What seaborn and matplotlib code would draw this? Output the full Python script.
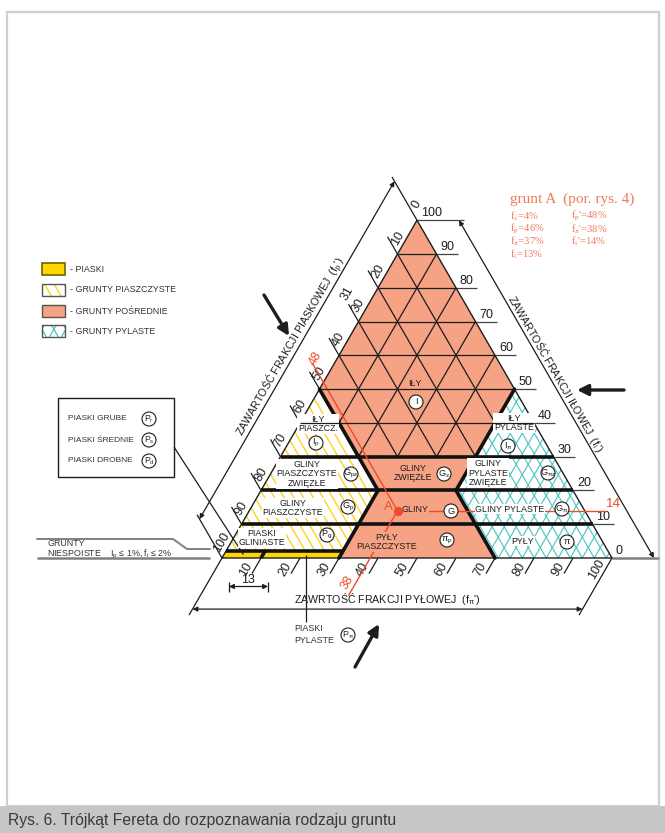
import numpy as np
import pandas as pd
import matplotlib
matplotlib.use("Agg")
import matplotlib.pyplot as plt
from matplotlib import font_manager
from matplotlib.patches import Polygon, Circle, Rectangle
import seaborn as sns

# ------------------------------------------------------------------ data
SCALE_TICKS = [0, 10, 20, 30, 40, 50, 60, 70, 80, 90, 100]
BOLD_CLAY = [10, 20, 30]                 # bold clay isolines (f_i')
THIN_CLAY = [40, 50, 60, 70, 80, 90]     # thin clay isolines
GRID_SAND = [10, 20, 30, 40]             # sand isolines inside the clay zone
GRID_SILT = [10, 20, 30, 40]             # silt isolines inside the clay zone
NONCOHESIVE_CLAY = 2                     # f_i <= 2 %  -> sands
SAND_SPLIT_SILT = 10                     # split of the sand strip
EXTRA_SAND_LABEL = "31"

# soil classes as (silt %, clay %) vertices
ZONE_INTERMEDIATE = [(0, 100), (0, 50), (30, 20), (30, 0), (70, 0), (50, 20), (50, 50)]
ZONE_SANDY = [(0, 50), (0, 2), (30, 2), (30, 20)]
ZONE_SANDS = [(0, 2), (0, 0), (30, 0), (30, 2)]
ZONE_SILTY = [(50, 50), (50, 20), (70, 0), (100, 0)]
ZONE_CLAY_GRID = [(0, 100), (0, 50), (20, 30), (50, 30), (50, 50)]
BOUNDARIES = [[(0, 50), (30, 20), (30, 0)],      # sand 50 % / silt 30 %
              [(50, 50), (50, 20), (70, 0)]]     # silt 50 % / sand 30 %

# soil A
A_SAND, A_SILT, A_CLAY = 48, 38, 14
A_RAW = ["f$_{\\dot{z}}$=4%", "f$_p$=46%", "f$_π$=37%", "f$_i$=13%"]
A_REDUCED = ["f$_p$'=48%", "f$_π$'=38%", "f$_i$'=14%"]

LEGEND_ITEMS = ["- PIASKI", "- GRUNTY PIASZCZYSTE", "- GRUNTY POŚREDNIE", "- GRUNTY PYLASTE"]
SAND_TYPES = [("PIASKI GRUBE", "P$_r$"), ("PIASKI ŚREDNIE", "P$_s$"), ("PIASKI DROBNE", "P$_d$")]

# ------------------------------------------------------------------ style
sns.set_theme(style="white")
names = {f.name for f in font_manager.fontManager.ttflist}
NARROW = "Liberation Sans Narrow" if "Liberation Sans Narrow" in names else "Liberation Sans"
K = 1.0 if NARROW.endswith("Narrow") else 0.86
plt.rcParams["font.family"] = [NARROW, "DejaVu Sans"]
plt.rcParams["mathtext.fontset"] = "custom"
plt.rcParams["mathtext.rm"] = NARROW
plt.rcParams["mathtext.it"] = NARROW + ":italic"
plt.rcParams["mathtext.default"] = "rm"

ORANGE = "#F5A285"
YELLOW = "#FFD600"
HATCH_Y = "#FFD21A"
CYAN = "#47C4C2"
RED = "#EF4A2A"
SALMON = "#F07A5C"
INK = "#1d1d1d"
GREY = "#808080"
NUM = ["Liberation Sans", "DejaVu Sans"]

W, H = 665, 833
U = 3.9                  # pixels per percent
X0, Y0 = 222.0, 558.0    # bottom-left corner of the triangle on the page
SQ = np.sqrt(3) / 2
UP_LEFT = np.array([-0.5, SQ])
DOWN_LEFT = np.array([-0.5, -SQ])
RIGHT = np.array([1.0, 0.0])


def P(x, y):
    return np.array([(x - X0) / U, (Y0 - y) / U])


def px(n):
    return n / U


def tern(silt, clay):
    return np.array([silt + clay / 2.0, clay * SQ])


def zone_xy(z):
    return np.array([tern(s, c) for s, c in z])


def seg(ax, a, b, **kw):
    return ax.plot([a[0], b[0]], [a[1], b[1]], solid_capstyle="butt", **kw)[0]


def hatch(ax, verts, angle, step_px, color, lw, z):
    verts = np.asarray(verts, float)
    clip = Polygon(verts, closed=True, fc="none", ec="none")
    ax.add_patch(clip)
    th = np.deg2rad(angle)
    u = np.array([np.cos(th), np.sin(th)])
    n = np.array([-u[1], u[0]])
    proj, along = verts @ n, verts @ u
    step = px(step_px)
    for k in np.arange(np.floor(proj.min() / step) * step, proj.max() + step, step):
        ln = seg(ax, k * n + (along.min() - 1) * u, k * n + (along.max() + 1) * u,
                 color=color, lw=lw, zorder=z)
        ln.set_clip_path(clip)


fig = plt.figure(figsize=(W / 100, H / 100), dpi=100)
ax = fig.add_axes([0, 0, 1, 1])
ax.set_xlim(P(0, 0)[0], P(W, 0)[0])
ax.set_ylim(P(0, H)[1], P(0, 0)[1])
ax.axis("off")

# page frame and caption band
ax.add_patch(Rectangle(P(7, 806), px(652), px(794), fill=False, ec="#cfcfcf", lw=1.6, zorder=0))
ax.add_patch(Rectangle(P(0, 833), px(665), px(27), fc="#c6c6c6", ec="none", zorder=0))
ax.text(*P(8, 820), "Rys. 6. Trójkąt Fereta do rozpoznawania rodzaju gruntu",
        fontsize=13.2 * K, color="#3a3a3a", va="center", ha="left")

# ------------------------------------------------------------------ zones
ax.add_patch(Polygon(zone_xy(ZONE_INTERMEDIATE), fc=ORANGE, ec="none", zorder=1))
ax.add_patch(Polygon(zone_xy(ZONE_SANDS), fc=YELLOW, ec="none", zorder=1))
hatch(ax, zone_xy(ZONE_SANDY), -60, 8.4, HATCH_Y, 1.0, 2)
hatch(ax, zone_xy(ZONE_SILTY), 60, 10.4, CYAN, 0.8, 2)
hatch(ax, zone_xy(ZONE_SILTY), -60, 10.4, CYAN, 0.8, 2)

# triangular grid in the clay zone
gclip = Polygon(zone_xy(ZONE_CLAY_GRID), closed=True, fc="none", ec="none")
ax.add_patch(gclip)
for p in GRID_SAND:
    seg(ax, tern(0, 100 - p), tern(100 - p, 0), color=INK, lw=0.9, zorder=3).set_clip_path(gclip)
for s in GRID_SILT:
    seg(ax, tern(s, 100 - s), tern(s, 0), color=INK, lw=0.9, zorder=3).set_clip_path(gclip)

for c in THIN_CLAY:
    seg(ax, tern(0, c), tern(100 - c, c), color=INK, lw=0.9, zorder=8.5)
for c in BOLD_CLAY:
    seg(ax, tern(0, c), tern(100 - c, c), color="#111111", lw=2.6, zorder=6)
seg(ax, tern(0, NONCOHESIVE_CLAY), tern(30, NONCOHESIVE_CLAY), color="#111111", lw=2.6, zorder=6)
seg(ax, tern(SAND_SPLIT_SILT, 0), tern(SAND_SPLIT_SILT, NONCOHESIVE_CLAY), color="#111111", lw=2.6, zorder=6)
for b in BOUNDARIES:
    xy = zone_xy(b)
    ax.plot(xy[:, 0], xy[:, 1], color="#111111", lw=2.6, zorder=6, solid_joinstyle="miter")

tri = zone_xy([(0, 0), (100, 0), (0, 100), (0, 0)])
ax.plot(tri[:, 0], tri[:, 1], color=INK, lw=1.0, zorder=5)

# ------------------------------------------------------------------ scales
for v in SCALE_TICKS:
    end = v in (0, 100)
    # sand (left side)
    e = tern(0, 100 - v)
    seg(ax, e, e + px(50 if end else 20) * UP_LEFT, color=INK, lw=0.9, zorder=4)
    ax.text(*(e + np.array([0, px(16)])), str(v), rotation=60, rotation_mode="anchor",
            ha="center", va="center", fontsize=9, family=NUM, color=INK)
    # silt (base)
    e = tern(v, 0)
    seg(ax, e, e + px(66 if end else 18) * DOWN_LEFT, color=INK, lw=0.9, zorder=4)
    if v > 0:
        ax.text(*(e + np.array([-px(15), -px(11)])), str(v), rotation=60, rotation_mode="anchor",
                ha="center", va="center", fontsize=9, family=NUM, color=INK)
    # clay (right side)
    e = tern(100 - v, v)
    seg(ax, e, e + px(47 if end else 21) * RIGHT, color=GREY if v == 0 else "#444444",
        lw=1.8 if v == 0 else 0.9, zorder=4)
    ax.text(*(e + np.array([px(4), px(1)])), str(v), ha="left", va="bottom",
            fontsize=9, family=NUM, color=INK)

e30 = tern(0, 70) + np.array([0, px(16)])
ax.text(*(e30 + px(14) * UP_LEFT + np.array([-px(4), 0])), EXTRA_SAND_LABEL, rotation=60,
        rotation_mode="anchor", ha="center", va="center", fontsize=9, family=NUM, color=INK)

dim = dict(arrowstyle="<|-|>", lw=0.9, color=INK, mutation_scale=7, shrinkA=0, shrinkB=0)
la, lb = tern(0, 100) + px(45) * UP_LEFT, tern(0, 0) + px(45) * UP_LEFT
ra, rb = tern(0, 100) + px(42) * RIGHT, tern(100, 0) + px(42) * RIGHT
ba, bb = tern(0, 0) + px(59) * DOWN_LEFT, tern(100, 0) + px(59) * DOWN_LEFT
for a, b in [(la, lb), (ra, rb), (ba, bb)]:
    ax.annotate("", xy=a, xytext=b, arrowprops=dim)

TFS = 8.9 * K
ax.text(*((la + lb) / 2 + px(7) * np.array([-SQ, 0.5])), "ZAWARTOŚĆ FRAKCJI PIASKOWEJ  (f$_p$')",
        rotation=60, rotation_mode="anchor", ha="center", va="center", fontsize=TFS, color=INK)
ax.text(*((ra + rb) / 2 + px(7) * np.array([SQ, 0.5]) + px(14) * np.array([-0.5, SQ])),
        "ZAWARTOŚĆ FRAKCJI IŁOWEJ  (f$_i$')",
        rotation=-60, rotation_mode="anchor", ha="center", va="center", fontsize=TFS, color=INK)
ax.text(*((ba + bb) / 2 + np.array([0, px(2)])), "ZAWRTOŚĆ FRAKCJI PYŁOWEJ  (f$_π$')",
        ha="center", va="bottom", fontsize=TFS, color=INK)

# big reading arrows
big = dict(arrowstyle="-|>", lw=2.4, color=INK, mutation_scale=16, shrinkA=0, shrinkB=0)
ax.annotate("", xy=P(289, 336), xytext=P(264, 295), arrowprops=big)
ax.annotate("", xy=P(577, 390), xytext=P(624, 390), arrowprops=big)
ax.annotate("", xy=P(379, 624), xytext=P(355, 667), arrowprops=big)

# ------------------------------------------------------------------ labels
FS = 7.4 * K
ZONE_LABELS = [
    ("IŁY", (415, 383), "I", (416, 402), "o"),
    ("IŁY\nPIASZCZ.", (318, 424), "I$_p$", (316, 443), "w"),
    ("GLINY\nPIASZCZYSTE\nZWIĘZŁE", (307, 474), "G$_{pz}$", (351, 474), "w"),
    ("GLINY\nPIASZCZYSTE", (293, 508), "G$_p$", (348, 507), "w"),
    ("PIASKI\nGLINIASTE", (262, 538), "P$_g$", (327, 535), "w"),
    ("GLINY\nZWIĘZŁE", (413, 473), "G$_z$", (444, 474), "o"),
    ("GLINY", (415, 510), "G", (451, 511), "o"),
    ("PYŁY\nPIASZCZYSTE", (387, 542), "π$_p$", (447, 540), "o"),
    ("IŁY\nPYLASTE", (514, 423), "I$_π$", (508, 446), "w"),
    ("GLINY\nPYLASTE\nZWIĘZŁE", (488, 473), "G$_{πz}$", (548, 473), "w"),
    ("GLINY PYLASTE", (510, 509), "G$_π$", (562, 509), "w"),
    ("PYŁY", (523, 541), "π", (567, 542), "w"),
]
for text, tpos, sym, spos, bg in ZONE_LABELS:
    ax.text(*P(*tpos), text, ha="center", va="center", fontsize=FS, linespacing=1.05,
            color=INK, zorder=8,
            bbox=dict(boxstyle="square,pad=0.1", fc="white" if bg == "w" else ORANGE, ec="none"))
    ax.add_patch(Circle(P(*spos), px(7), fc="white", ec=INK, lw=0.8, zorder=8))
    ax.text(*P(*spos), sym, ha="center", va="center", fontsize=7.6 * K, color=INK, zorder=9)

# ------------------------------------------------------------------ soil A
A = tern(A_SILT, A_CLAY)
e48 = tern(0, 100 - A_SAND)
b38 = tern(A_SILT, 0)
e14 = tern(100 - A_CLAY, A_CLAY)
guides = [(e48 + px(22) * UP_LEFT, A), (A, b38 + px(43) * DOWN_LEFT), (A, e14 + px(21) * RIGHT)]
for a, b in guides:
    sns.lineplot(x=[a[0], b[0]], y=[a[1], b[1]], sort=False, estimator=None, ax=ax,
                 color=RED, lw=1.0, zorder=7.5)
sns.scatterplot(x=[A[0]], y=[A[1]], ax=ax, s=38, color=RED, edgecolor=RED, zorder=10, legend=False)
ax.text(*P(388, 507.5), "A", color=RED, fontsize=9.5, family=NUM, ha="center", va="center", zorder=10)
ax.text(*(e48 + np.array([-px(8), px(24)])), str(A_SAND), rotation=60, rotation_mode="anchor",
        ha="center", va="center", fontsize=9, family=NUM, color=RED)
ax.text(*(b38 + np.array([-px(23), -px(25)])), str(A_SILT), rotation=60, rotation_mode="anchor",
        ha="center", va="center", fontsize=9, family=NUM, color=RED)
ax.text(*(e14 + px(21) * RIGHT + np.array([0, px(1)])), str(A_CLAY), ha="left", va="bottom",
        fontsize=9.5, family=NUM, color=RED)

SERIF = ["Liberation Serif", "DejaVu Serif"]
ax.text(*P(510, 199), "grunt A  (por. rys. 4)", family=SERIF, fontsize=11, color=SALMON, va="center")
for i, t in enumerate(A_RAW):
    ax.text(*P(510, 216 + 12.8 * i), t, family=SERIF, math_fontfamily="stix", fontsize=7.6,
            color=SALMON, va="center")
for i, t in enumerate(A_REDUCED):
    ax.text(*P(571, 216 + 12.8 * i), t, family=SERIF, math_fontfamily="stix", fontsize=7.6,
            color=SALMON, va="center")

# ------------------------------------------------------------------ legend
sw = [(42, 263), (42, 284), (42, 305), (42, 325)]
for i, ((x, y), name) in enumerate(zip(sw, LEGEND_ITEMS)):
    ll = P(x, y + 12)
    rect = np.array([ll, ll + [px(23), 0], ll + [px(23), px(12)], ll + [0, px(12)]])
    if i == 0:
        ax.add_patch(Polygon(rect, fc=YELLOW, ec="#6f6400", lw=1.2, zorder=3))
    elif i == 1:
        hatch(ax, rect, -60, 8.4, HATCH_Y, 1.0, 2)
        ax.add_patch(Polygon(rect, fc="none", ec="#555555", lw=1.0, zorder=3))
    elif i == 2:
        ax.add_patch(Polygon(rect, fc=ORANGE, ec="#555555", lw=1.0, zorder=3))
    else:
        hatch(ax, rect, 60, 10.4, CYAN, 0.9, 2)
        hatch(ax, rect, -60, 10.4, CYAN, 0.9, 2)
        ax.add_patch(Polygon(rect, fc="none", ec="#555555", lw=1.0, zorder=3))
    ax.text(*P(x + 28, y + 6), name, fontsize=7.4 * K, color="#333333", va="center")

# sands box
ax.add_patch(Rectangle(P(58, 477), px(116), px(79), fill=False, ec=INK, lw=1.0))
for i, (name, sym) in enumerate(SAND_TYPES):
    yy = 419 + 21 * i
    ax.text(*P(68, yy), name, fontsize=7.0 * K, color="#333333", va="center")
    ax.add_patch(Circle(P(149, yy), px(7), fc="white", ec=INK, lw=0.8, zorder=8))
    ax.text(*P(149, yy), sym, fontsize=7.2 * K, ha="center", va="center", zorder=9)
seg(ax, P(174, 447), tern(SAND_SPLIT_SILT / 2, NONCOHESIVE_CLAY / 2), color=INK, lw=0.9, zorder=7)

# silty sands
pp = tern(21, NONCOHESIVE_CLAY / 2)
seg(ax, pp, np.array([pp[0], P(0, 622)[1]]), color=INK, lw=0.9, zorder=7)
ax.text(*P(294, 634.5), "PIASKI\nPYLASTE", fontsize=7.4 * K, color="#333333", va="center",
        linespacing=1.35)
ax.add_patch(Circle(P(348, 635), px(7), fc="white", ec=INK, lw=0.8, zorder=8))
ax.text(*P(348, 635), "P$_π$", fontsize=7.4 * K, ha="center", va="center", zorder=9)

# non-cohesive soils note
poly = np.array([P(37, 539), P(173, 539), P(187, 549), P(210, 549)])
ax.plot(poly[:, 0], poly[:, 1], color=GREY, lw=1.4)
seg(ax, P(37, 558), P(210, 558), color=GREY, lw=1.8)
ax.text(*P(47, 544), "GRUNTY", fontsize=7.4 * K, color="#333333", va="center")
ax.text(*P(47, 554), "NIESPOISTE    I$_p$ ≤ 1%, f$_i$ ≤ 2%", fontsize=7.4 * K, color="#333333",
        va="center")

# dimension of the sand strip
for xx in (229, 268):
    seg(ax, P(xx, 582), P(xx, 592), color=INK, lw=0.9)
ax.annotate("", xy=P(229, 586.5), xytext=P(268, 586.5), arrowprops=dim)
ax.text(*P(248.5, 580), "13", fontsize=9, family=NUM, ha="center", va="center", color=INK)

fig.savefig("out.png", dpi=100)
